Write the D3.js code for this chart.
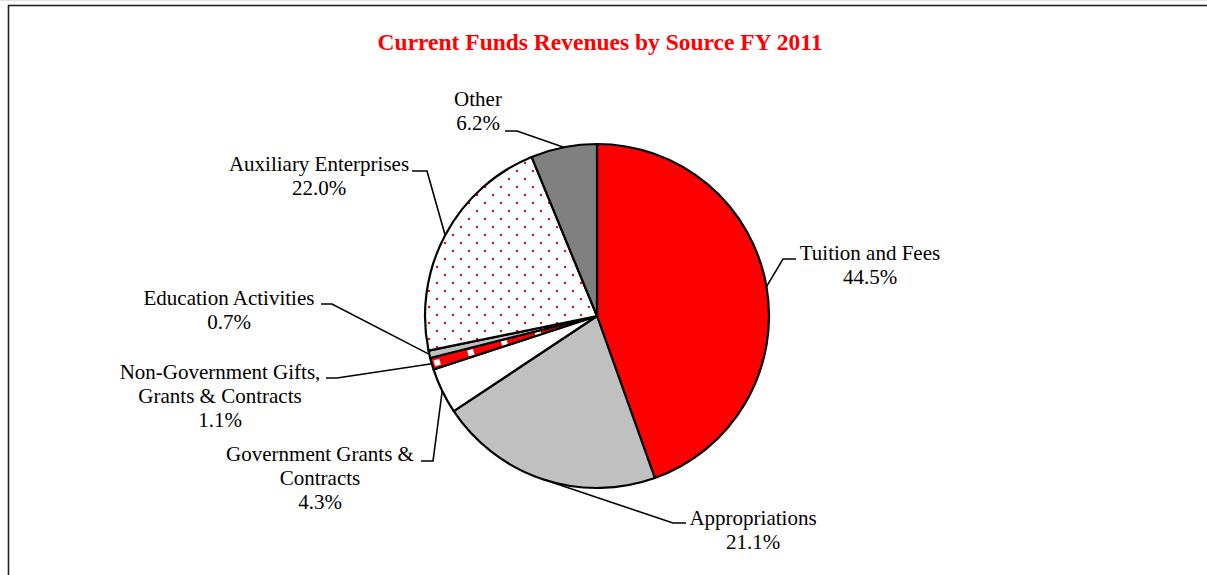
<!DOCTYPE html>
<html>
<head>
<meta charset="utf-8">
<script src="https://cdn.jsdelivr.net/npm/d3@7"></script>
<style>
  html, body { margin: 0; padding: 0; background: #fff; }
  svg { display: block; }
</style>
</head>
<body>
<svg id="chart" width="1207" height="575"></svg>
<script>
// Revenue sources, in drawing order (clockwise from 12 o'clock)
const categories = [
  "Tuition and Fees",
  "Appropriations",
  "Government Grants & Contracts",
  "Non-Government Gifts, Grants & Contracts",
  "Education Activities",
  "Auxiliary Enterprises",
  "Other"
];
const shares = [44.5, 21.1, 4.3, 1.1, 0.7, 22.0, 6.2];
// How each label is broken over lines
const labelLines = [
  ["Tuition and Fees"],
  ["Appropriations"],
  ["Government Grants &", "Contracts"],
  ["Non-Government Gifts,", "Grants & Contracts"],
  ["Education Activities"],
  ["Auxiliary Enterprises"],
  ["Other"]
];
const chartTitle = "Current Funds Revenues by Source FY 2011";

// Layout: label anchor (centre x, first baseline y) and leader line start/elbow
const labelLayout = [
  { x: 870, y: 260, lead: [[796, 259], [783, 259]] },
  { x: 753, y: 525, lead: [[686, 523], [673, 523]] },
  { x: 320, y: 461, lead: [[421, 461], [433, 461]] },
  { x: 220, y: 379, lead: [[326, 378], [337, 378]] },
  { x: 229, y: 305, lead: [[321, 304], [332, 304]] },
  { x: 319, y: 171, lead: [[412, 171], [427, 171]] },
  { x: 478, y: 106, lead: [[505, 131], [517, 131]] }
];
const fills = ["#ff0000", "#c0c0c0", "#ffffff", "url(#giftsPattern)", "#c0c0c0", "url(#dotPattern)", "#808080"];

const svg = d3.select("#chart");
const W = 1207, H = 575;
const cx = 597, cy = 316, radius = 172;
const lineH = 24;

// Patterns (slices are drawn in a group centred on the pie, so offsets are local)
const defs = svg.append("defs");
const dot = defs.append("pattern")
  .attr("id", "dotPattern").attr("patternUnits", "userSpaceOnUse")
  .attr("width", 16).attr("height", 16)
  .attr("patternTransform", "translate(7,6)");
dot.append("rect").attr("width", 16).attr("height", 16).attr("fill", "#fff");
dot.append("rect").attr("x", 0).attr("y", 0).attr("width", 2).attr("height", 2).attr("fill", "#ff0000");
dot.append("rect").attr("x", 8).attr("y", 8).attr("width", 2).attr("height", 2).attr("fill", "#ff0000");

const gifts = defs.append("pattern")
  .attr("id", "giftsPattern").attr("patternUnits", "userSpaceOnUse")
  .attr("width", 35).attr("height", 35)
  .attr("patternTransform", "translate(-163.5,44.5) rotate(-16.4)");
gifts.append("rect").attr("width", 35).attr("height", 35).attr("fill", "#ff0000");
gifts.append("rect").attr("x", 0).attr("y", 0).attr("width", 6).attr("height", 6).attr("fill", "#fff");

// Frame
svg.append("line").attr("x1", 0).attr("x2", W).attr("y1", 0.5).attr("y2", 0.5)
  .attr("stroke", "#e2e2e2").attr("stroke-width", 1);
svg.append("rect")
  .attr("x", 8.5).attr("y", 5.5).attr("width", W + 20).attr("height", H + 20)
  .attr("fill", "none").attr("stroke", "#222").attr("stroke-width", 1.6);

// Title
svg.append("text")
  .attr("x", 600).attr("y", 50)
  .attr("text-anchor", "middle")
  .attr("font-family", "'Liberation Serif', 'Times New Roman', serif")
  .attr("font-weight", "bold")
  .attr("font-size", 23.5)
  .attr("fill", "#ff0000")
  .text(chartTitle);

// Pie
const data = categories.map((c, i) => ({ name: c, value: shares[i], i }));
const pie = d3.pie().value(d => d.value).sort(null).startAngle(0).endAngle(2 * Math.PI);
const arcs = pie(data);
const arc = d3.arc().innerRadius(0).outerRadius(radius);

const g = svg.append("g").attr("transform", `translate(${cx},${cy})`);
g.selectAll("path.slice")
  .data(arcs)
  .join("path")
  .attr("class", "slice")
  .attr("d", arc)
  .attr("fill", d => fills[d.data.i])
  .attr("stroke", "#000")
  .attr("stroke-width", 2.2)
  .attr("stroke-linejoin", "round");

// Leader lines: from label, through elbow, to the slice's mid-angle on the rim
const line = d3.line();
arcs.forEach(a => {
  const mid = (a.startAngle + a.endAngle) / 2;
  const rim = [cx + radius * Math.sin(mid), cy - radius * Math.cos(mid)];
  const lay = labelLayout[a.data.i];
  svg.append("path")
    .attr("d", line([lay.lead[0], lay.lead[1], rim]))
    .attr("fill", "none")
    .attr("stroke", "#000")
    .attr("stroke-width", 1.6);
});

// Labels
const fmt = d3.format(".1f");
arcs.forEach(a => {
  const lay = labelLayout[a.data.i];
  const lines = labelLines[a.data.i].concat([fmt(a.data.value) + "%"]);
  const t = svg.append("text")
    .attr("text-anchor", "middle")
    .attr("font-family", "'Liberation Serif', 'Times New Roman', serif")
    .attr("font-size", 21)
    .attr("fill", "#000");
  lines.forEach((s, k) => {
    t.append("tspan").attr("x", lay.x).attr("y", lay.y + k * lineH).text(s);
  });
});
</script>
</body>
</html>
